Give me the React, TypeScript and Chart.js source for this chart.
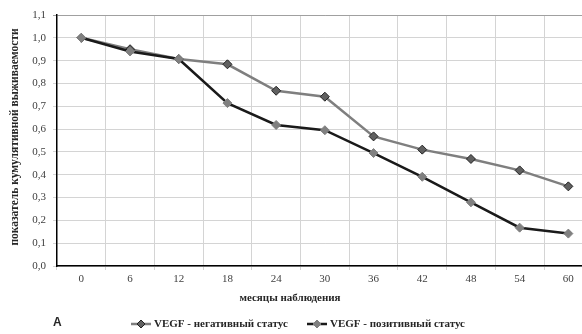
import React, { useEffect, useRef } from 'react';
import { Chart, registerables } from 'chart.js';

Chart.register(...registerables);

const months = ['0', '6', '12', '18', '24', '30', '36', '42', '48', '54', '60'];
const negativeStatus = [1.0, 0.95, 0.907, 0.884, 0.768, 0.742, 0.568, 0.51, 0.469, 0.419, 0.349];
const positiveStatus = [1.0, 0.94, 0.907, 0.714, 0.618, 0.595, 0.495, 0.391, 0.279, 0.168, 0.142];

const negLabel = 'VEGF - негативный статус';
const posLabel = 'VEGF - позитивный статус';
const yTitle = 'показатель кумулятивной выживаемости';
const xTitle = 'месяцы наблюдения';
const panelLetter = 'A';

const NEG_LINE = '#7f7f7f';
const NEG_POINT = '#606060';
const POS_LINE = '#1a1a1a';
const POS_POINT = '#808080';
const SERIF = '"Liberation Serif", "Times New Roman", serif';

function diamond(ctx: CanvasRenderingContext2D, x: number, y: number, r: number, fill: string, stroke: string) {
  ctx.beginPath();
  ctx.moveTo(x, y - r);
  ctx.lineTo(x + r, y);
  ctx.lineTo(x, y + r);
  ctx.lineTo(x - r, y);
  ctx.closePath();
  ctx.fillStyle = fill;
  ctx.fill();
  ctx.strokeStyle = stroke;
  ctx.lineWidth = 1;
  ctx.stroke();
}

const textPlugin = {
  id: 'texts',
  afterDraw(chart: any) {
    const ctx: CanvasRenderingContext2D = chart.ctx;
    ctx.save();
    ctx.fillStyle = '#262626';
    ctx.textAlign = 'center';
    ctx.textBaseline = 'middle';
    // y title
    ctx.font = `bold 11.5px ${SERIF}`;
    ctx.save();
    ctx.translate(15, 137);
    ctx.rotate(-Math.PI / 2);
    ctx.fillText(yTitle, 0, 0);
    ctx.restore();
    // x title
    ctx.font = `bold 11px ${SERIF}`;
    ctx.fillText(xTitle, 290, 298);
    // panel letter
    ctx.font = 'bold 12px "Liberation Sans", Arial, sans-serif';
    ctx.textAlign = 'left';
    ctx.fillText(panelLetter, 53, 323);
    // legend
    const items = [
      { x: 131, label: negLabel, line: NEG_LINE, fill: NEG_POINT, stroke: '#222' },
      { x: 307, label: posLabel, line: POS_LINE, fill: POS_POINT, stroke: POS_POINT },
    ];
    const ly = 324;
    items.forEach((it) => {
      ctx.beginPath();
      ctx.moveTo(it.x, ly);
      ctx.lineTo(it.x + 20, ly);
      ctx.strokeStyle = it.line;
      ctx.lineWidth = 2.5;
      ctx.stroke();
      diamond(ctx, it.x + 10, ly, 4, it.fill, it.stroke);
      ctx.fillStyle = '#262626';
      ctx.font = `bold 11px ${SERIF}`;
      ctx.textAlign = 'left';
      ctx.textBaseline = 'middle';
      ctx.fillText(it.label, it.x + 23, ly);
    });
    ctx.restore();
  },
};

export default function App() {
  const ref = useRef<HTMLCanvasElement>(null);
  useEffect(() => {
    if (!ref.current) return;
    const chart = new Chart(ref.current, {
      type: 'line',
      data: {
        labels: months,
        datasets: [
          {
            label: negLabel,
            data: negativeStatus,
            borderColor: NEG_LINE,
            borderWidth: 2.5,
            pointStyle: 'rectRot',
            pointRadius: 4.5,
            pointBackgroundColor: NEG_POINT,
            pointBorderColor: '#222',
            pointBorderWidth: 1,
            tension: 0,
            order: 1,
          },
          {
            label: posLabel,
            data: positiveStatus,
            borderColor: POS_LINE,
            borderWidth: 2.5,
            pointStyle: 'rectRot',
            pointRadius: 4.5,
            pointBackgroundColor: POS_POINT,
            pointBorderColor: POS_POINT,
            pointBorderWidth: 1,
            tension: 0,
            order: 0,
          },
        ],
      },
      options: {
        responsive: false,
        animation: false,
        devicePixelRatio: 1,
        layout: { autoPadding: false, padding: { left: 12, top: 15, right: 7.3, bottom: 0 } },
        plugins: { legend: { display: false }, tooltip: { enabled: false } },
        scales: {
          x: {
            type: 'category',
            offset: true,
            grid: {
              offset: true,
              color: '#d4d4d4',
              lineWidth: 1,
              tickLength: 4,
              drawTicks: true,
            },
            border: { color: '#000', width: 1.5 },
            ticks: { color: '#404040', font: { family: SERIF, size: 11 }, padding: 3, maxRotation: 0 },
            afterFit: (s: any) => { s.height = 68; },
          },
          y: {
            min: 0,
            max: 1.1,
            grid: {
              color: (c: any) => (c.tick && Math.abs(c.tick.value - 1.1) < 1e-6 ? '#a0a0a0' : '#d4d4d4'),
              lineWidth: 1,
              tickLength: 4,
            },
            border: { color: '#000', width: 1.5 },
            ticks: {
              stepSize: 0.1,
              color: '#404040',
              font: { family: SERIF, size: 11 },
              padding: 7,
              callback: (v: any) => Number(v).toFixed(1).replace('.', ','),
            },
            afterFit: (s: any) => { s.width = 45; },
          },
        },
      },
      plugins: [textPlugin],
    });
    return () => chart.destroy();
  }, []);
  return (
    <div style={{ position: 'fixed', left: 0, top: 0, width: 582, height: 334, overflow: 'hidden', background: '#fff' }}>
      <canvas ref={ref} width={600} height={334} style={{ display: 'block', width: 600, height: 334 }} />
    </div>
  );
}
